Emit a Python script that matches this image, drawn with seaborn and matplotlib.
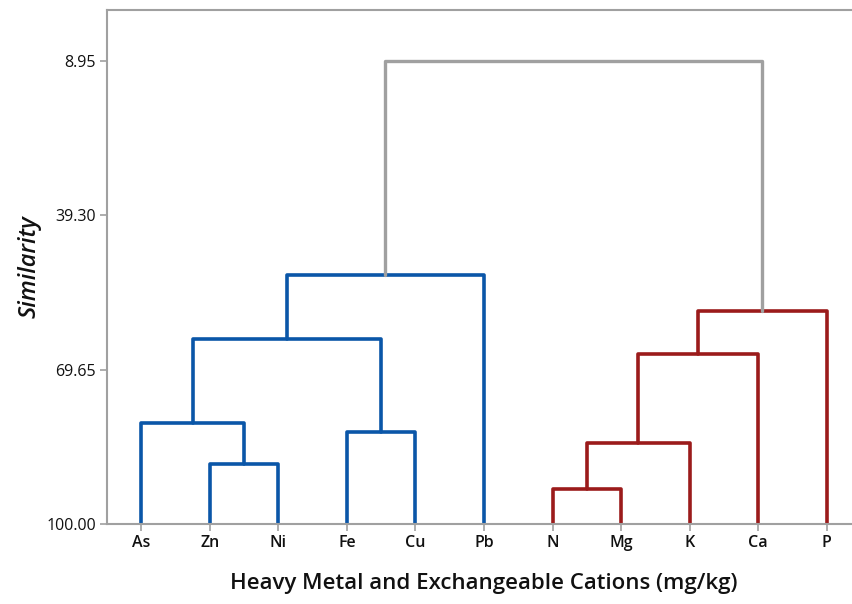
import numpy as np
import pandas as pd
import matplotlib.pyplot as plt
import seaborn as sns

sns.set_theme(style="white")
plt.rcParams["font.family"] = ["Open Sans", "DejaVu Sans"]

# Leaves in dendrogram order
leaves = ["As", "Zn", "Ni", "Fe", "Cu", "Pb", "N", "Mg", "K", "Ca", "P"]

# Merge steps: ids 0-10 are leaves, merge k creates cluster id 11 + k
merge_left = [1, 6, 3, 0, 12, 14, 15, 16, 17, 18]
merge_right = [2, 7, 4, 11, 8, 13, 9, 5, 10, 19]
similarity = [88.2, 93.2, 81.85, 80.2, 84.1, 63.68, 66.5, 51.03, 58.1, 8.95]
merge_group = ["blue", "red", "blue", "blue", "red", "blue", "red", "blue", "red", "top"]

palette = {"blue": "#0a56a8", "red": "#9b1b1b", "top": "#a0a0a0"}

pos = {i: float(i) for i in range(len(leaves))}
hgt = {i: 100.0 for i in range(len(leaves))}
rows = []
for k, (a, b, s, g) in enumerate(zip(merge_left, merge_right, similarity, merge_group)):
    xs = [pos[a], pos[a], pos[b], pos[b]]
    ys = [hgt[a], s, s, hgt[b]]
    for j, (x, y) in enumerate(zip(xs, ys)):
        rows.append({"merge": k, "order": j, "x": x, "y": y, "group": g})
    new = len(leaves) + k
    pos[new] = (pos[a] + pos[b]) / 2
    hgt[new] = s
df = pd.DataFrame(rows)

fig = plt.figure(figsize=(8.52, 6.04), dpi=100)
ax = fig.add_axes([107 / 852, 1 - 524 / 604, (861 - 107) / 852, (524 - 10) / 604])

for k, d in df.groupby("merge"):
    g = d["group"].iloc[0]
    sns.lineplot(data=d, x="x", y="y", sort=False, estimator=None, ax=ax,
                 color=palette[g], linewidth=2.6 if g != "top" else 2.4)

ax.set_xlim(-0.5, len(leaves) - 0.5)
ax.set_ylim(100, 8.95 - 51 / 5.085)
ax.set_xticks(range(len(leaves)))
ax.set_xticklabels(leaves, fontsize=11.5, fontweight="semibold")
ax.set_yticks([8.95, 39.30, 69.65, 100.00])
ax.set_yticklabels(["8.95", "39.30", "69.65", "100.00"], fontsize=11.5)
ax.tick_params(axis="both", length=5, width=1.2, color="#a0a0a0", direction="out",
               bottom=True, left=True, pad=3, labelcolor="#111111")
for side in ["left", "top", "bottom"]:
    ax.spines[side].set_color("#a0a0a0")
    ax.spines[side].set_linewidth(1.5)
ax.spines["right"].set_visible(False)

ax.set_xlabel("Heavy Metal and Exchangeable Cations (mg/kg)", fontsize=16,
              fontweight="semibold", labelpad=16, color="#111111")
ax.set_ylabel("Similarity", fontsize=17, fontstyle="italic", fontweight="semibold",
              labelpad=3, color="#111111")

fig.savefig("out.png", dpi=100)
